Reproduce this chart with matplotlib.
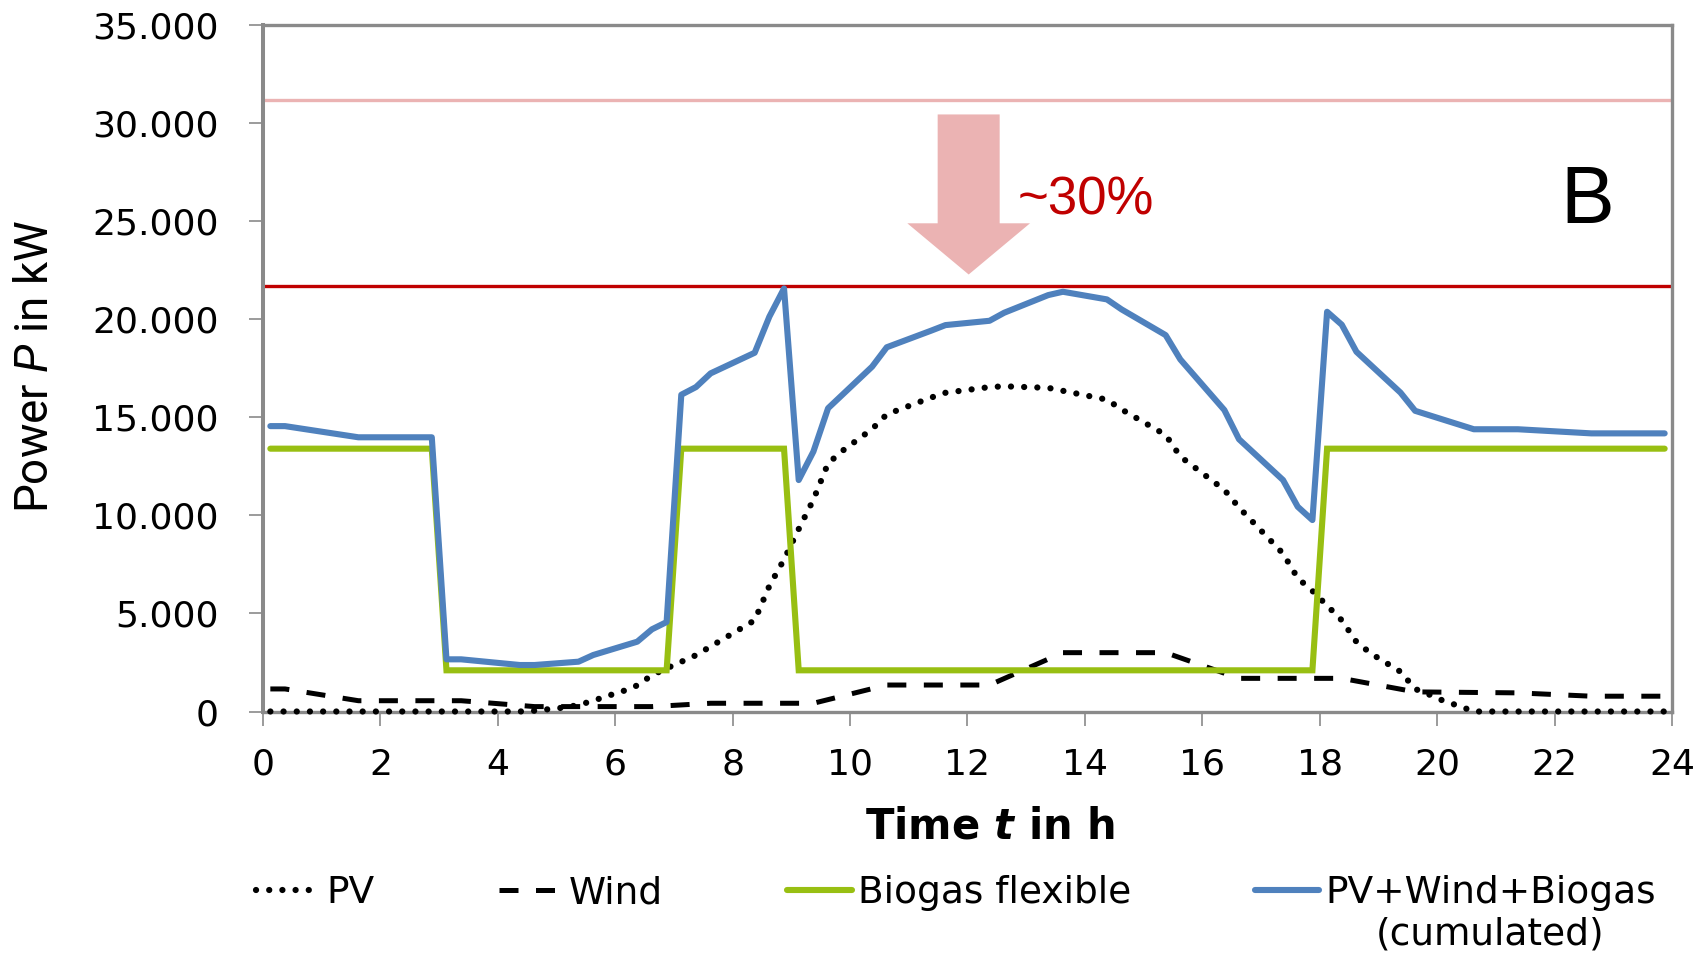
import matplotlib
matplotlib.use("Agg")
import matplotlib.pyplot as plt
from matplotlib.patches import FancyArrow
from matplotlib.ticker import FuncFormatter

# power in kW over the day (time in h) at the kinks
pv_t = [0.125, 4.375, 4.625, 5.125, 5.375, 5.625, 5.875, 6.125, 6.375, 6.625, 6.875,
        7.375, 8.375, 8.625, 8.875, 9.125, 9.375, 9.625, 9.875, 10.375, 10.625,
        11.375, 11.625, 12.375, 12.625, 13.375, 13.625, 14.375, 14.625, 15.375,
        15.625, 16.375, 16.625, 17.375, 17.625, 17.875, 18.125, 18.375, 18.625,
        18.875, 19.375, 19.625, 19.875, 20.125, 20.375, 20.625, 23.875]
pv_p = [0, 0, 40, 200, 330, 550, 800, 1030, 1330, 1850, 2200,
        2870, 4650, 6400, 7750, 9300, 10800, 12650, 13300, 14400, 15150,
        16000, 16250, 16540, 16580, 16500, 16350, 15900, 15400, 14100,
        13000, 11300, 10400, 8050, 6800, 6150, 5400, 4650, 3550,
        2950, 2030, 1150, 850, 520, 280, 0, 0]

wind_t = [0.125, 0.375, 1.625, 3.375, 4.625, 6.625, 7.625, 9.375, 10.625, 12.375,
          13.625, 15.375, 16.625, 18.375, 19.625, 21.375, 22.625, 23.875]
wind_p = [1150, 1150, 550, 550, 250, 250, 420, 420, 1350, 1350,
          3000, 3000, 1690, 1690, 1000, 950, 780, 780]

biogas_t = [0.125, 2.875, 3.125, 6.875, 7.125, 8.875, 9.125, 17.875, 18.125, 23.875]
biogas_p = [13400, 13400, 2100, 2100, 13400, 13400, 2100, 2100, 13400, 13400]

total_t = [0.125, 0.375, 1.625, 2.875, 3.125, 3.375, 4.375, 4.625, 5.375, 5.625,
           6.375, 6.625, 6.875, 7.125, 7.375, 7.625, 8.375, 8.625, 8.875, 9.125,
           9.375, 9.625, 10.375, 10.625, 11.375, 11.625, 12.375, 12.625, 13.375,
           13.625, 14.375, 14.625, 15.375, 15.625, 16.375, 16.625, 17.375, 17.625,
           17.875, 18.125, 18.375, 18.625, 19.375, 19.625, 20.625, 21.375, 22.625,
           23.875]
total_p = [14550, 14550, 13980, 13980, 2660, 2660, 2370, 2370, 2540, 2880,
           3560, 4190, 4560, 16150, 16540, 17240, 18290, 20130, 21570, 11800,
           13250, 15460, 17580, 18570, 19410, 19700, 19920, 20330, 21230,
           21400, 21010, 20500, 19190, 17950, 15370, 13880, 11800, 10440,
           9760, 20380, 19720, 18340, 16260, 15330, 14390, 14390, 14180,
           14180]

peak_before = 31200
peak_after = 21700

labels = ["PV", "Wind", "Biogas flexible", "PV+Wind+Biogas"]
hour_ticks = list(range(0, 25, 2))
power_ticks = list(range(0, 35001, 5000))

plt.rcParams["font.family"] = "DejaVu Sans"
plt.rcParams["mathtext.fontset"] = "custom"
plt.rcParams["mathtext.rm"] = "Roboto"
plt.rcParams["mathtext.it"] = "Roboto:italic"
plt.rcParams["mathtext.bfit"] = "DejaVu Sans:italic:bold"

fig = plt.figure(figsize=(17.08, 9.59), dpi=100)
ax = fig.add_axes([0.15398, 0.25808, 0.82494, 0.71585])

gray = "#8a8a8a"
ax.axhline(peak_before, color="#ebb3b3", lw=2.4, zorder=1)
ax.axhline(peak_after, color="#c00000", lw=2.4, zorder=1)

# reduction arrow
ax.add_patch(FancyArrow(12.02, 30440, 0, -8160, width=1.056, head_width=2.09,
                        head_length=2610, length_includes_head=True,
                        color="#ebb3b3", lw=0, zorder=1))
ax.text(12.86, 25360, "~30%", color="#c00000", fontsize=38,
        family="Liberation Sans", ha="left", va="baseline")
ax.text(22.55, 24900, "B", color="black", fontsize=58,
        family="Liberation Sans", ha="center", va="baseline")

l1, = ax.plot(pv_t, pv_p, color="black", lw=4.5, ls=(0, (0.01, 2.1)),
              dash_capstyle="round", clip_on=False, zorder=4)
l2, = ax.plot(wind_t, wind_p, color="black", lw=3.6, ls=(0, (3.8, 3.5)),
              clip_on=False, zorder=4)
l3, = ax.plot(biogas_t, biogas_p, color="#98bf12", lw=4.4, zorder=4,
              solid_capstyle="round", solid_joinstyle="miter")
l4, = ax.plot(total_t, total_p, color="#4f81bd", lw=4.4, zorder=5,
              solid_capstyle="round")

ax.set_xlim(0, 24)
ax.set_ylim(0, 35000)
ax.set_xticks(hour_ticks)
ax.set_yticks(power_ticks)
ax.yaxis.set_major_formatter(FuncFormatter(lambda v, pos: f"{int(v):,}".replace(",", ".")))
ax.tick_params(axis="both", direction="out", length=10, width=1.2, color=gray,
               labelsize=26)
ax.tick_params(axis="y", pad=22)
ax.tick_params(axis="x", pad=16)
for side, sp in ax.spines.items():
    sp.set_color(gray)
    sp.set_linewidth(2.4)
ax.spines["left"].set_linewidth(2.9)

ax.set_xlabel(r"Time $\mathbfit{t}$ in h", fontsize=30, fontweight="bold")
ax.xaxis.label.set_va("baseline")
ax.xaxis.set_label_coords(0.516, -0.1843)
ax.set_ylabel(r"Power $\mathit{P}$ in kW", fontsize=33, family="Roboto")
ax.yaxis.label.set_va("center")
ax.yaxis.set_label_coords(-0.1618, 0.503)

leg = fig.legend([l1, l2, l3, l4], labels, loc="center",
                 bbox_to_anchor=(956 / 1708, 1 - 893 / 959), ncol=4,
                 frameon=False, fontsize=27, handlelength=1.73,
                 handletextpad=0.15, columnspacing=3.3)

fig.canvas.draw()
bb = leg.get_texts()[3].get_window_extent()
fig.text((bb.x0 + bb.x1) / 2 / fig.bbox.width,
         ((bb.y0 + bb.y1) / 2 - 41.6) / fig.bbox.height,
         "(cumulated)", fontsize=27, ha="center", va="center")

fig.savefig("out.png", dpi=100)
